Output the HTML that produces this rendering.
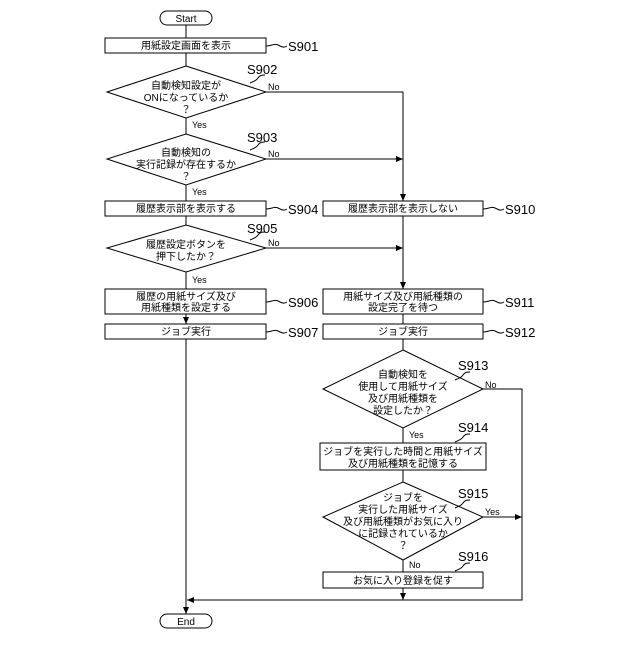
<!DOCTYPE html>
<html><head><meta charset="utf-8"><style>
html,body{margin:0;padding:0;background:#fff;}
svg text{font-family:"Liberation Sans","Noto Sans CJK JP",sans-serif;fill:#000;}
.t{font-size:10px;text-anchor:middle;}
.s{font-size:13px;}
.y{font-size:9px;}
</style></head><body>
<svg width="640" height="640" viewBox="0 0 640 640" xmlns="http://www.w3.org/2000/svg">
<defs><marker id="a" markerWidth="8" markerHeight="8" refX="7" refY="4" orient="auto" markerUnits="userSpaceOnUse"><path d="M0,1 L7,4 L0,7z" fill="#000"/></marker></defs>
<g fill="none" stroke="#000" stroke-width="1">
<rect x="160" y="11" width="52" height="14" rx="7"/>
<rect x="105" y="38" width="161" height="15"/>
<polygon points="186,66 266,92 186,118 107,92"/>
<polygon points="186,134 266,159 186,185 107,159"/>
<rect x="105" y="201" width="161" height="15"/>
<rect x="323" y="201" width="160" height="15"/>
<polygon points="186,225 266,248 186,272 107,248"/>
<rect x="105" y="289" width="161" height="25"/>
<rect x="323" y="289" width="160" height="25"/>
<rect x="105" y="324" width="161" height="15"/>
<rect x="323" y="324" width="160" height="15"/>
<polygon points="403,350 483,389 403,428 323,389"/>
<rect x="320" y="443" width="166" height="27"/>
<polygon points="403,482 483,517 403,560 323,517"/>
<rect x="323" y="572" width="160" height="16"/>
<rect x="160" y="614" width="52" height="14" rx="7"/>
<path d="M186,25V38M186,53V66M186,118V134M186,185V201M186,216V225M186,272V289M186,314V324" marker-end="url(#a)"/>
<path d="M186,339V614" marker-end="url(#a)"/>
<path d="M266,92H403V201" marker-end="url(#a)"/>
<path d="M266,159H403" marker-end="url(#a)"/>
<path d="M266,248H403" marker-end="url(#a)"/>
<path d="M403,216V289" marker-end="url(#a)"/>
<path d="M403,314V324M403,339V350M403,428V443M403,470V482M403,560V572M403,588V600" marker-end="url(#a)"/>
<path d="M483,389H522V600H187" marker-end="url(#a)"/>
<path d="M483,517H522" marker-end="url(#a)"/>
<path d="M266,46c6,0 8,-3 12,-1s6,3 9,1"/>
<path d="M266,209c6,0 8,-3 12,-1s6,3 9,1"/>
<path d="M266,302c6,0 8,-3 12,-1s6,3 9,1"/>
<path d="M266,332c6,0 8,-3 12,-1s6,3 9,1"/>
<path d="M483,209c6,0 8,-3 12,-1s6,3 9,1"/>
<path d="M483,302c6,0 8,-3 12,-1s6,3 9,1"/>
<path d="M483,332c6,0 8,-3 12,-1s6,3 9,1"/>
<path d="M250,83c4,-2 6,-2 8,-5s4,-3 7,-3"/>
<path d="M250,150c4,-2 6,-2 8,-5s4,-3 7,-3"/>
<path d="M250,240c4,-2 6,-2 8,-5s4,-3 7,-3"/>
<path d="M455,380c4,-2 6,-2 8,-5s4,-3 7,-3"/>
<path d="M455,442c4,-2 6,-2 8,-5s4,-3 7,-3"/>
<path d="M455,508c4,-2 6,-2 8,-5s4,-3 7,-3"/>
<path d="M455,571c4,-2 6,-2 8,-5s4,-3 7,-3"/>
</g>
<text class="t" x="186" y="22">Start</text>
<text class="t" x="186" y="49">用紙設定画面を表示</text>
<text class="t" x="186" y="89">自動検知設定が</text>
<text class="t" x="186" y="101">ONになっているか</text>
<text class="t" x="186" y="113">？</text>
<text class="t" x="186" y="156">自動検知の</text>
<text class="t" x="186" y="168">実行記録が存在するか</text>
<text class="t" x="186" y="180">？</text>
<text class="t" x="186" y="212">履歴表示部を表示する</text>
<text class="t" x="403" y="212">履歴表示部を表示しない</text>
<text class="t" x="186" y="248">履歴設定ボタンを</text>
<text class="t" x="186" y="260">押下したか？</text>
<text class="t" x="186" y="300">履歴の用紙サイズ及び</text>
<text class="t" x="186" y="311">用紙種類を設定する</text>
<text class="t" x="403" y="300">用紙サイズ及び用紙種類の</text>
<text class="t" x="403" y="311">設定完了を待つ</text>
<text class="t" x="186" y="335">ジョブ実行</text>
<text class="t" x="403" y="335">ジョブ実行</text>
<text class="t" x="403" y="378">自動検知を</text>
<text class="t" x="403" y="390">使用して用紙サイズ</text>
<text class="t" x="403" y="402">及び用紙種類を</text>
<text class="t" x="403" y="414">設定したか？</text>
<text class="t" x="403" y="455">ジョブを実行した時間と用紙サイズ</text>
<text class="t" x="403" y="467">及び用紙種類を記憶する</text>
<text class="t" x="403" y="501">ジョブを</text>
<text class="t" x="403" y="513">実行した用紙サイズ</text>
<text class="t" x="403" y="525">及び用紙種類がお気に入り</text>
<text class="t" x="403" y="537">に記録されているか</text>
<text class="t" x="403" y="549">？</text>
<text class="t" x="403" y="584">お気に入り登録を促す</text>
<text class="t" x="186" y="625">End</text>
<text class="y" x="268" y="90">No</text>
<text class="y" x="268" y="157">No</text>
<text class="y" x="268" y="246">No</text>
<text class="y" x="192" y="128">Yes</text>
<text class="y" x="192" y="195">Yes</text>
<text class="y" x="192" y="283">Yes</text>
<text class="y" x="485" y="388">No</text>
<text class="y" x="409" y="438">Yes</text>
<text class="y" x="485" y="515">Yes</text>
<text class="y" x="409" y="568">No</text>
<text class="s" x="288" y="51">S901</text>
<text class="s" x="247" y="74">S902</text>
<text class="s" x="247" y="142">S903</text>
<text class="s" x="288" y="214">S904</text>
<text class="s" x="247" y="233">S905</text>
<text class="s" x="288" y="307">S906</text>
<text class="s" x="288" y="337">S907</text>
<text class="s" x="505" y="214">S910</text>
<text class="s" x="505" y="307">S911</text>
<text class="s" x="505" y="337">S912</text>
<text class="s" x="458" y="370">S913</text>
<text class="s" x="458" y="432">S914</text>
<text class="s" x="458" y="498">S915</text>
<text class="s" x="458" y="561">S916</text>
</svg>
</body></html>
